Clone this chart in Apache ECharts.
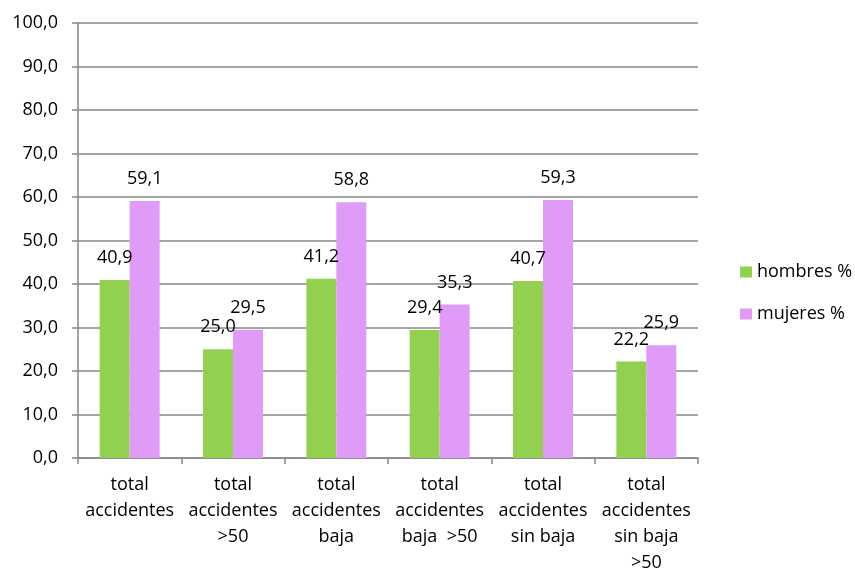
<!DOCTYPE html>
<html lang="es">
<head>
  <meta charset="UTF-8">
  <title>Accidentes por sexo</title>
  <script src="https://cdn.jsdelivr.net/npm/echarts@6/dist/echarts.min.js"></script>
  <style>
    body { margin: 0; padding: 0; background: #fff; }
    #chart { width: 855px; height: 571px; }
  </style>
</head>
<body>
  <div id="chart"></div>
  <script>
    // categorías del eje X
    const categorias = [
      'total\naccidentes',
      'total\naccidentes\n>50',
      'total\naccidentes\nbaja',
      'total\naccidentes\nbaja  >50',
      'total\naccidentes\nsin baja',
      'total\naccidentes\nsin baja\n>50'
    ];
    const hombres = [40.9, 25.0, 41.2, 29.4, 40.7, 22.2];
    const mujeres = [59.1, 29.5, 58.8, 35.3, 59.3, 25.9];

    const chart = echarts.init(document.getElementById('chart'));
    const fmt = v => v.toFixed(1).replace('.', ',');
    const fuente = 'Open Sans';
    const gris = '#878787';

    const etiqueta = {
      show: true,
      position: 'top',
      distance: 13,
      color: '#000',
      fontSize: 18,
      fontFamily: fuente,
      formatter: p => fmt(p.value)
    };

    chart.setOption({
      animation: false,
      grid: { left: 78, right: 157, top: 23, bottom: 113, outerBoundsMode: 'none' },
      legend: {
        orient: 'vertical',
        left: 740,
        top: 263,
        padding: 0,
        itemWidth: 12,
        itemHeight: 11,
        itemGap: 24,
        icon: 'rect',
        textStyle: { fontSize: 18, fontFamily: fuente, color: '#000' },
        data: ['hombres %', 'mujeres %']
      },
      xAxis: {
        type: 'category',
        data: categorias,
        axisLine: { lineStyle: { color: gris, width: 1.5 } },
        axisTick: { show: true, length: 6, lineStyle: { color: gris, width: 1.5 } },
        axisLabel: {
          color: '#000',
          fontSize: 18,
          fontFamily: fuente,
          lineHeight: 26,
          margin: 14,
          interval: 0
        }
      },
      yAxis: {
        type: 'value',
        min: 0,
        max: 100,
        interval: 10,
        axisLine: { show: true, lineStyle: { color: gris, width: 1.5 } },
        axisTick: { show: true, length: 6, lineStyle: { color: gris, width: 1.5 } },
        splitLine: { lineStyle: { color: gris, width: 1.5 } },
        axisLabel: {
          color: '#000',
          fontSize: 18,
          fontFamily: fuente,
          margin: 20,
          formatter: v => fmt(v)
        }
      },
      series: [
        {
          name: 'hombres %',
          type: 'bar',
          data: hombres,
          barGap: '0%',
          barCategoryGap: '42%',
          itemStyle: { color: '#92D050' },
          label: etiqueta
        },
        {
          name: 'mujeres %',
          type: 'bar',
          data: mujeres,
          barGap: '0%',
          barCategoryGap: '42%',
          itemStyle: { color: '#DF9BF7' },
          label: etiqueta
        }
      ]
    });
  </script>
</body>
</html>
